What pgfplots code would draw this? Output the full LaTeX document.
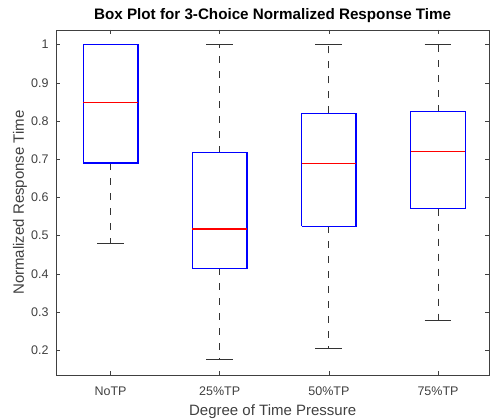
\documentclass[border=0pt]{standalone}
\usepackage{fontspec}
\setmainfont{Liberation Sans}
\usepackage{pgfplots}
\pgfplotsset{compat=1.18}
\definecolor{axgray}{rgb}{0.25,0.25,0.25}
\definecolor{boxblue}{rgb}{0,0,1}
\definecolor{medred}{rgb}{1,0,0}
\definecolor{whisk}{rgb}{0.2,0.2,0.2}
\begin{document}
\begin{tikzpicture}
\useasboundingbox (-56pt,-44pt) rectangle (437pt,375pt);
\begin{axis}[
  scale only axis,
  width=433.3pt, height=345pt,
  xmin=0.5, xmax=4.47,
  ymin=0.135, ymax=1.0385,
  xtick={1,2,3,4},
  xticklabels={NoTP,25\%TP,50\%TP,75\%TP},
  ytick={0.2,0.3,0.4,0.5,0.6,0.7,0.8,0.9,1},
  yticklabels={0.2,0.3,0.4,0.5,0.6,0.7,0.8,0.9,1},
  tick align=inside,
  major tick length=4pt,
  tick style={axgray, line width=0.6pt},
  axis line style={axgray, line width=0.8pt},
  ticklabel style={font=\fontsize{12.5}{14}\selectfont, text=axgray},
  x tick label style={yshift=-8pt},
  y tick label style={xshift=-4pt},
  title={\textbf{Box Plot for 3-Choice Normalized Response Time}},
  title style={font=\fontsize{15.2}{18}\selectfont, at={(axis description cs:0.5,1)}, anchor=center, yshift=8pt},
  xlabel={Degree of Time Pressure},
  ylabel={Normalized Response Time},
  label style={font=\fontsize{15}{17}\selectfont, text=axgray},
  xlabel style={at={(axis description cs:0.5,0)}, anchor=center, yshift=-37pt},
  ylabel style={at={(axis description cs:0,0.5)}, anchor=center, yshift=36pt},
  boxst/.style={draw=boxblue, line width=1.3pt, line join=miter, mark=none},
  medst/.style={draw=medred, line width=1.3pt, mark=none},
  whst/.style={draw=whisk, line width=0.9pt, dash pattern=on 7pt off 8pt, mark=none},
  capst/.style={draw=whisk, line width=0.9pt, mark=none},
]
% NoTP
\addplot[whst] coordinates {(1,0.69) (1,0.48)};
\addplot[capst] coordinates {(0.8775,0.48) (1.1225,0.48)};
\addplot[capst] coordinates {(0.8775,1.0) (1.1225,1.0)};
\addplot[boxst] coordinates {(0.75,0.69) (1.25,0.69) (1.25,1.0) (0.75,1.0) (0.75,0.69)};
\addplot[medst] coordinates {(0.75,0.849) (1.25,0.849)};
% 25%TP
\addplot[whst] coordinates {(2,0.414) (2,0.175)};
\addplot[whst] coordinates {(2,0.717) (2,1.0)};
\addplot[capst] coordinates {(1.8775,0.175) (2.1225,0.175)};
\addplot[capst] coordinates {(1.8775,1.0) (2.1225,1.0)};
\addplot[boxst] coordinates {(1.75,0.414) (2.25,0.414) (2.25,0.717) (1.75,0.717) (1.75,0.414)};
\addplot[medst] coordinates {(1.75,0.517) (2.25,0.517)};
% 50%TP
\addplot[whst] coordinates {(3,0.524) (3,0.205)};
\addplot[whst] coordinates {(3,0.820) (3,1.0)};
\addplot[capst] coordinates {(2.8775,0.205) (3.1225,0.205)};
\addplot[capst] coordinates {(2.8775,1.0) (3.1225,1.0)};
\addplot[boxst] coordinates {(2.75,0.524) (3.25,0.524) (3.25,0.820) (2.75,0.820) (2.75,0.524)};
\addplot[medst] coordinates {(2.75,0.689) (3.25,0.689)};
% 75%TP
\addplot[whst] coordinates {(4,0.571) (4,0.279)};
\addplot[whst] coordinates {(4,0.825) (4,1.0)};
\addplot[capst] coordinates {(3.8775,0.279) (4.1225,0.279)};
\addplot[capst] coordinates {(3.8775,1.0) (4.1225,1.0)};
\addplot[boxst] coordinates {(3.75,0.571) (4.25,0.571) (4.25,0.825) (3.75,0.825) (3.75,0.571)};
\addplot[medst] coordinates {(3.75,0.720) (4.25,0.720)};
\end{axis}
\end{tikzpicture}
\end{document}
